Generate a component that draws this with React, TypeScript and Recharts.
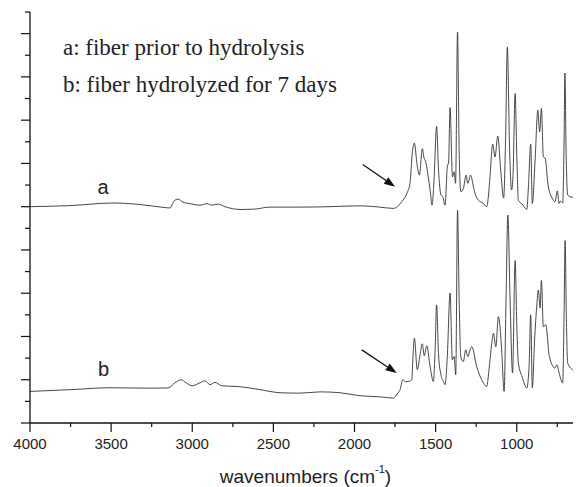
import { LineChart, Line, XAxis, YAxis, ReferenceLine, ReferenceDot } from "recharts";

// [wavenumber, absorbance]
const traceA: [number, number][] = [
  [4000, 10.0], [3753, 10.05], [3488, 10.17], [3322, 10.1], [3168, 9.96], [3137, 9.94],
  [3113, 10.26], [3088, 10.35], [3057, 10.21], [3014, 10.14], [2952, 10.07], [2909, 10.14],
  [2878, 10.07], [2841, 10.12], [2798, 10.0], [2706, 9.87], [2613, 9.89], [2521, 9.98],
  [2336, 9.98], [2151, 10.0], [1966, 10.04], [1843, 9.98], [1761, 9.92], [1709, 10.23],
  [1676, 10.63], [1658, 11.08], [1644, 12.47], [1631, 12.94], [1614, 11.92], [1600, 11.46],
  [1582, 12.68], [1571, 12.24], [1561, 12.07], [1547, 11.46], [1534, 10.77], [1522, 10.07],
  [1510, 11.23], [1494, 13.71], [1482, 11.69], [1467, 10.54], [1456, 10.46], [1442, 10.07],
  [1428, 11.84], [1420, 12.06], [1411, 14.58], [1396, 11.38], [1386, 11.61], [1377, 11.08],
  [1365, 18.07], [1355, 12.61], [1345, 10.69], [1329, 10.84], [1312, 11.46], [1302, 11.08],
  [1284, 11.46], [1269, 11.0], [1257, 10.61], [1226, 10.23], [1208, 10.17], [1185, 10.0],
  [1174, 10.54], [1165, 11.38], [1148, 12.89], [1134, 12.3], [1117, 13.26], [1099, 11.69],
  [1081, 10.4], [1069, 13.07], [1058, 17.38], [1044, 12.61], [1032, 10.77], [1023, 11.46],
  [1010, 15.23], [999, 12.15], [990, 10.3], [967, 10.12], [938, 9.88], [928, 10.92],
  [914, 12.89], [904, 10.15], [887, 12.15], [870, 14.46], [859, 13.46], [848, 14.54],
  [836, 12.3], [825, 12.24], [807, 11.0], [782, 10.4], [764, 10.23], [750, 10.73],
  [739, 10.15], [731, 10.26], [717, 10.18], [709, 12.61], [703, 16.18], [696, 12.61],
  [686, 10.54], [659, 10.44], [610, 10.43],
];

const traceB: [number, number][] = [
  [4000, 1.46], [3753, 1.54], [3507, 1.63], [3260, 1.61], [3149, 1.62], [3106, 1.86],
  [3069, 2.0], [3038, 1.86], [3001, 1.72], [2952, 1.86], [2921, 1.95], [2890, 1.77],
  [2860, 1.88], [2817, 1.72], [2706, 1.68], [2582, 1.54], [2459, 1.4], [2336, 1.38],
  [2212, 1.44], [2089, 1.4], [1966, 1.26], [1843, 1.21], [1761, 1.15], [1732, 1.4],
  [1719, 1.54], [1703, 2.0], [1685, 1.91], [1668, 1.92], [1647, 2.0], [1639, 3.15],
  [1631, 3.92], [1613, 2.46], [1596, 3.15], [1582, 3.66], [1570, 3.11], [1555, 3.57],
  [1534, 2.61], [1514, 1.92], [1503, 3.38], [1494, 5.46], [1482, 3.15], [1467, 2.23],
  [1452, 1.92], [1442, 1.77], [1428, 3.07], [1411, 6.01], [1397, 2.92], [1386, 3.07],
  [1376, 2.23], [1365, 9.84], [1355, 5.69], [1345, 3.07], [1329, 2.84], [1315, 3.38],
  [1301, 3.07], [1291, 3.29], [1277, 3.53], [1247, 2.61], [1216, 2.0], [1185, 1.69],
  [1171, 2.46], [1154, 3.69], [1144, 4.15], [1129, 3.53], [1113, 4.92], [1093, 3.38],
  [1078, 1.46], [1066, 5.69], [1055, 9.61], [1041, 5.69], [1026, 2.31], [1010, 7.51],
  [999, 4.31], [990, 2.77], [967, 2.14], [938, 1.62], [924, 2.61], [914, 5.0],
  [904, 1.62], [890, 3.84], [877, 5.38], [867, 6.15], [856, 5.31], [848, 6.59],
  [836, 4.46], [821, 4.54], [799, 3.07], [764, 2.54], [753, 2.69], [739, 2.31],
  [717, 1.85], [708, 5.23], [702, 8.43], [694, 4.77], [686, 2.77], [651, 2.43], [610, 2.27],
];

const xTicks = [4000, 3750, 3500, 3250, 3000, 2750, 2500, 2250, 2000, 1750, 1500, 1250, 1000, 750];
const yTicks = Array.from({ length: 20 }, (_, i) => i);

const rowsA = traceA.map(([wn, v]) => ({ wn, v }));
const rowsB = traceB.map(([wn, v]) => ({ wn, v }));

const sans = "'Liberation Sans', Arial, sans-serif";
const serif = "'Liberation Serif', 'Times New Roman', serif";

const XTick = (props: any) => {
  const { x, y, payload } = props;
  const major = payload.value % 500 === 0;
  return (
    <g>
      <line x1={x} y1={y} x2={x} y2={y + (major ? 9 : 4)} stroke="#111" strokeWidth={1.2} />
      {major && (
        <text x={x} y={y + 26} textAnchor="middle" fontSize={15} fontFamily={sans} fill="#222">
          {payload.value}
        </text>
      )}
    </g>
  );
};

const YTick = (props: any) => {
  const { x, y, payload } = props;
  const len = payload.value % 2 === 0 ? 9 : 5;
  return <line x1={x} y1={y} x2={x - len} y2={y} stroke="#111" strokeWidth={1.2} />;
};

const Arrow = (props: any) => {
  const { x1, y1, x2, y2 } = props;
  const ang = Math.atan2(y2 - y1, x2 - x1);
  const bx = x2 - 11 * Math.cos(ang);
  const by = y2 - 11 * Math.sin(ang);
  const px = -Math.sin(ang) * 4;
  const py = Math.cos(ang) * 4;
  return (
    <g>
      <line x1={x1} y1={y1} x2={bx} y2={by} stroke="#111" strokeWidth={1.3} />
      <polygon points={`${x2},${y2} ${bx + px},${by + py} ${bx - px},${by - py}`} fill="#111" />
    </g>
  );
};

const note = (text: string, size: number, family: string, anchor: string) => (p: any) => (
  <text x={p.cx} y={p.cy} fontSize={size} fontFamily={family} textAnchor={anchor} fill="#222">
    {text}
  </text>
);

const AxisTitle = (props: any) => {
  const { viewBox } = props;
  const cx = viewBox.x + viewBox.width / 2;
  return (
    <text x={cx} y={475} textAnchor="middle" fontSize={19} fontFamily={sans} fill="#222">
      wavenumbers (cm
      <tspan dy={-10} fontSize={11}>-1</tspan>
      <tspan dy={10}>)</tspan>
    </text>
  );
};

export default function App() {
  return (
    <div style={{ width: 573, height: 479, overflow: "hidden" }}>
      <LineChart width={573} height={479} margin={{ top: 4, right: 0, bottom: 34, left: 0 }}>
        <XAxis
          type="number"
          dataKey="wn"
          domain={[604, 4000]}
          reversed
          ticks={xTicks}
          interval={0}
          allowDataOverflow
          height={30}
          tickSize={0}
          tickMargin={0}
          tick={XTick}
          axisLine={{ stroke: "#111", strokeWidth: 1.3 }}
          label={{ content: AxisTitle }}
        />
        <YAxis
          type="number"
          domain={[0, 19]}
          ticks={yTicks}
          interval={0}
          width={22}
          tickSize={0}
          tickMargin={0}
          tick={YTick}
          axisLine={{ stroke: "#111", strokeWidth: 1.3 }}
        />
        <Line data={rowsA} dataKey="v" type="monotone" stroke="#333" strokeWidth={0.9} dot={false} isAnimationActive={false} />
        <Line data={rowsB} dataKey="v" type="monotone" stroke="#333" strokeWidth={0.9} dot={false} isAnimationActive={false} />
        <ReferenceLine segment={[{ x: 1949, y: 11.95 }, { x: 1750, y: 10.92 }]} shape={Arrow} />
        <ReferenceLine segment={[{ x: 1955, y: 3.38 }, { x: 1740, y: 2.31 }]} shape={Arrow} />
        <ReferenceDot x={3797} y={17.03} r={0} shape={note("a: fiber prior to hydrolysis", 23, serif, "start")} />
        <ReferenceDot x={3797} y={15.29} r={0} shape={note("b: fiber hydrolyzed for 7 days", 23, serif, "start")} />
        <ReferenceDot x={3550} y={10.58} r={0} shape={note("a", 20, sans, "middle")} />
        <ReferenceDot x={3547} y={2.18} r={0} shape={note("b", 20, sans, "middle")} />
      </LineChart>
    </div>
  );
}
